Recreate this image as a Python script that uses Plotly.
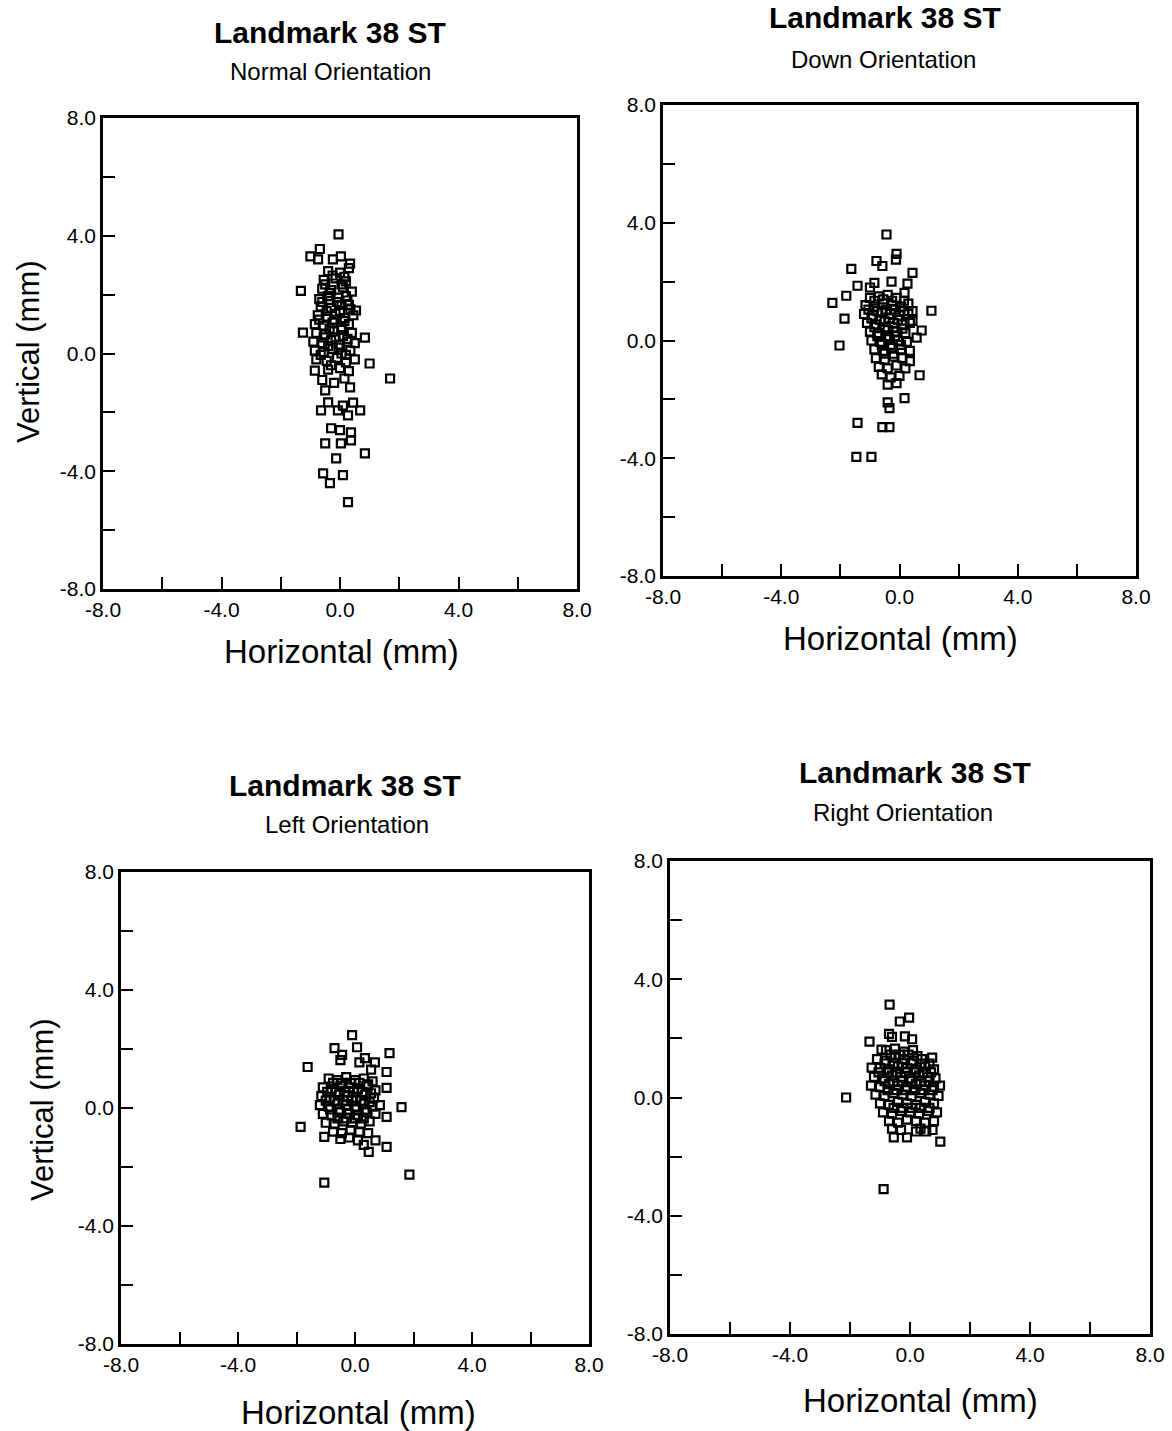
import plotly.graph_objects as go

# ---- Landmark 38 ST displacement data (mm) ----
normal_x = [-0.05, -1.0, -0.68, -0.74, -0.24, 0.03, 0.34, -1.32, -1.25, 0.84, 1.0, 0.54,
            -0.85, 1.69, 0.34, -0.5, -0.4, -0.64, 0.1, 0.44, 0.68, 0.27, -0.07, -0.3, 0.0,
            0.37, 0.37, -0.5, 0.03, 0.84, -0.13, -0.57, -0.34, 0.1, 0.27,
            -0.4, 0.0, 0.3, -0.55, -0.15, 0.2, -0.6, -0.3, 0.1, 0.4, -0.7, -0.4, -0.05, 0.25,
            -0.65, -0.3, 0.05, 0.35, -0.75, -0.45, -0.15, 0.15, 0.45, -0.85, -0.55, -0.25, 0.05,
            0.3, -0.8, -0.5, -0.2, 0.1, 0.4, -0.9, -0.6, -0.3, 0.0, 0.25, 0.5, -0.85, -0.55,
            -0.25, 0.05, 0.35, -0.8, -0.45, -0.1, 0.2, 0.5, -0.4, 0.0, 0.3, -0.6, 0.15, -0.2,
            -0.25, 0.15, -0.5, 0.05, -0.35, 0.2, -0.6, -0.1, 0.3, -0.45, 0.0, -0.7, -0.2, 0.15,
            -0.35, 0.05, -0.55, -0.15, 0.25, -0.4, -0.05, 0.2, -0.65, -0.3]
normal_y = [4.05, 3.3, 3.55, 3.2, 3.2, 3.3, 3.05, 2.13, 0.71, 0.54, -0.34, 1.46,
            -0.58, -0.85, -1.15, -1.25, -1.66, -1.93, -1.77, -1.67, -1.93, -2.1, -1.93, -2.54, -2.6,
            -2.68, -2.95, -3.05, -3.05, -3.39, -3.56, -4.07, -4.4, -4.13, -5.05,
            2.8, 2.75, 2.9, 2.5, 2.55, 2.45, 2.2, 2.15, 2.25, 2.1, 1.85, 1.95, 1.9, 1.8,
            1.6, 1.55, 1.65, 1.5, 1.3, 1.25, 1.35, 1.2, 1.3, 1.0, 0.95, 1.05, 0.9,
            1.0, 0.7, 0.65, 0.75, 0.6, 0.7, 0.4, 0.35, 0.45, 0.3, 0.4, 0.35, 0.1, 0.05,
            0.15, 0.0, 0.1, -0.2, -0.25, -0.15, -0.3, -0.2, -0.55, -0.5, -0.6, -0.9, -0.85, -1.0,
            2.65, 2.6, 2.35, 2.35, 2.05, 1.95, 1.75, 1.75, 1.65, 1.45, 1.45, 1.15, 1.15, 1.1,
            0.85, 0.8, 0.55, 0.55, 0.5, 0.25, 0.2, -0.05, -0.05, -0.4]

down_x = [-0.44, -0.1, -0.12, -0.78, -0.58, -1.63, 0.44, -0.85, -0.27, 0.27, -1.42, -1.0,
          -1.8, -2.27, 1.08, -1.86, 0.44, 0.75, -2.03, 0.68, 0.17, -0.4, -0.34, -1.42, -0.58,
          -0.34, -1.46, -0.95, 0.17, 0.44, 0.58,
          -1.0, -0.7, -0.4, -0.1, -1.15, -0.85, -0.55, -0.25, 0.05, 0.3, -1.2, -0.9, -0.6,
          -0.3, 0.0, 0.3, -1.1, -0.8, -0.5, -0.2, 0.1, 0.35, -1.0, -0.7, -0.4, -0.1, 0.2,
          -0.95, -0.65, -0.35, -0.05, 0.25, -0.85, -0.55, -0.25, 0.05, 0.35, -0.8, -0.5,
          -0.2, 0.1, 0.35, -0.7, -0.4, -0.1, 0.2, -0.6, -0.3, 0.0, -0.4, -0.1,
          -0.85, -0.55, -0.25, 0.15, -1.05, -0.75, -0.45, -0.15, 0.15, -0.95, -0.65, -0.35,
          -0.05, -0.85, -0.5, -0.2, 0.1, -0.75, -0.45, -0.15, -0.6, -0.3, 0.05, -0.5, -0.2]
down_y = [3.6, 2.94, 2.75, 2.7, 2.53, 2.43, 2.3, 1.96, 2.0, 1.93, 1.86, 1.8,
          1.52, 1.28, 1.01, 0.74, 1.0, 0.34, -0.17, -1.18, -1.96, -2.1, -2.3, -2.8, -2.94,
          -2.94, -3.95, -3.95, 1.62, 0.67, 0.1,
          1.45, 1.5, 1.55, 1.45, 1.2, 1.15, 1.25, 1.2, 1.15, 1.25, 0.9, 0.85, 0.95,
          0.9, 0.85, 0.9, 0.6, 0.55, 0.65, 0.6, 0.55, 0.6, 0.3, 0.25, 0.35, 0.3, 0.25,
          0.0, -0.05, 0.05, 0.0, -0.05, -0.3, -0.35, -0.25, -0.3, -0.35, -0.6, -0.65,
          -0.55, -0.6, -0.7, -0.9, -0.95, -0.85, -0.95, -1.15, -1.25, -1.2, -1.5, -1.45,
          1.35, 1.4, 1.35, 1.35, 1.05, 1.0, 1.05, 1.05, 1.0, 0.75, 0.7, 0.75,
          0.7, 0.45, 0.45, 0.45, 0.4, 0.15, 0.15, 0.15, -0.15, -0.15, -0.15, -0.45, -0.45]

left_x = [-0.1, -0.7, -0.44, 0.07, 0.34, 0.68, 1.18, -0.5, -1.62, 1.08, 0.15, 0.55,
          1.59, -1.86, -1.05, 1.08, 0.47, 0.3, 0.7, -1.05, 1.86, 1.08, 1.08,
          -0.9, -0.6, -0.3, 0.0, 0.3, 0.6, -1.1, -0.8, -0.5, -0.2, 0.1, 0.4, 0.7,
          -1.15, -0.85, -0.55, -0.25, 0.05, 0.35, 0.65, -1.2, -0.9, -0.6, -0.3, 0.0, 0.3,
          0.6, 0.85, -1.1, -0.8, -0.5, -0.2, 0.1, 0.4, 0.7, -1.0, -0.7, -0.4, -0.1, 0.2,
          0.5, -0.75, -0.45, -0.15, 0.15, 0.45, -0.5, -0.2, 0.1,
          -0.75, -0.45, -0.15, 0.15, 0.45, -0.95, -0.65, -0.35, -0.05, 0.25, 0.55, -1.0, -0.7,
          -0.4, -0.1, 0.2, 0.5, -0.85, -0.55, -0.25, 0.05, 0.35, -0.6, -0.3, 0.0, 0.3]
left_y = [2.47, 2.03, 1.8, 2.06, 1.69, 1.55, 1.86, 1.62, 1.39, 1.22, 1.55, 1.3,
          0.03, -0.64, -0.98, -1.32, -1.49, -1.25, -1.1, -2.53, -2.26, 0.68, -0.3,
          1.0, 0.95, 1.05, 0.95, 1.0, 0.9, 0.7, 0.65, 0.75, 0.7, 0.65, 0.75, 0.6,
          0.4, 0.35, 0.45, 0.4, 0.35, 0.45, 0.35, 0.1, 0.05, 0.15, 0.1, 0.05, 0.15,
          0.05, 0.1, -0.2, -0.25, -0.15, -0.2, -0.25, -0.15, -0.2, -0.5, -0.55, -0.45, -0.5, -0.55,
          -0.45, -0.8, -0.85, -0.75, -0.8, -0.85, -1.05, -1.0, -1.1,
          0.85, 0.85, 0.85, 0.85, 0.8, 0.55, 0.55, 0.55, 0.55, 0.55, 0.5, 0.25, 0.25,
          0.25, 0.25, 0.25, 0.2, -0.05, -0.05, -0.05, -0.05, -0.05, -0.35, -0.35, -0.35, -0.35]

right_x = [-0.68, -0.34, -0.03, -0.7, -0.6, -0.17, 0.07, -1.35, -0.95, 0.74, -1.28, -2.13,
           1.01, -0.54, -0.1, 0.2, 0.54, -0.88,
           -0.8, -0.5, -0.2, 0.1, -1.1, -0.8, -0.5, -0.2, 0.1, 0.4, -1.0, -0.7, -0.4, -0.1,
           0.2, 0.5, 0.8, -1.2, -0.9, -0.6, -0.3, 0.0, 0.3, 0.6, 0.85, -1.3, -1.0, -0.7,
           -0.4, -0.1, 0.2, 0.5, 0.8, 1.0, -1.15, -0.85, -0.55, -0.25, 0.05, 0.35, 0.65, 0.95,
           -1.0, -0.7, -0.4, -0.1, 0.2, 0.5, 0.8, -0.9, -0.6, -0.3, 0.0, 0.3, 0.6, 0.9,
           -0.7, -0.4, -0.1, 0.2, 0.5, 0.8, -0.6, -0.3, 0.35, 0.75,
           -0.65, -0.35, -0.05, 0.25, -0.85, -0.55, -0.25, 0.05, 0.35, 0.65, -1.05, -0.75,
           -0.45, -0.15, 0.15, 0.45, 0.7, -0.85, -0.55, -0.25, 0.05, 0.35, 0.65, -0.75, -0.45,
           -0.15, 0.15, 0.45, 0.75, -0.55, -0.25, 0.05, 0.35, 0.65]
right_y = [3.14, 2.57, 2.7, 2.15, 2.05, 2.07, 1.97, 1.89, 1.62, 1.35, 1.01, 0.0,
           -1.49, -1.35, -1.35, -1.15, -1.15, -3.1,
           1.6, 1.65, 1.55, 1.6, 1.3, 1.25, 1.35, 1.3, 1.25, 1.3, 1.0, 0.95, 1.05, 1.0,
           0.95, 1.05, 0.95, 0.7, 0.65, 0.75, 0.7, 0.65, 0.75, 0.7, 0.65, 0.4, 0.35, 0.45,
           0.4, 0.35, 0.45, 0.4, 0.35, 0.4, 0.1, 0.05, 0.15, 0.1, 0.05, 0.15, 0.1, 0.05,
           -0.2, -0.25, -0.15, -0.2, -0.25, -0.15, -0.2, -0.5, -0.55, -0.45, -0.5, -0.55, -0.45, -0.5,
           -0.8, -0.85, -0.75, -0.8, -0.85, -0.8, -1.05, -1.1, -1.05, -1.1,
           1.45, 1.45, 1.45, 1.4, 1.15, 1.15, 1.15, 1.15, 1.15, 1.15, 0.85, 0.85,
           0.85, 0.85, 0.85, 0.85, 0.85, 0.55, 0.55, 0.55, 0.55, 0.55, 0.55, 0.25, 0.25,
           0.25, 0.25, 0.25, 0.25, -0.35, -0.35, -0.35, -0.35, -0.35]

tick_vals = [-8, -6, -4, -2, 0, 2, 4, 6, 8]
tick_text = ["-8.0", "", "-4.0", "", "0.0", "", "4.0", "", "8.0"]

panel_titles = ["Normal Orientation", "Down Orientation", "Left Orientation", "Right Orientation"]
main_title = "Landmark 38 ST"
x_title = "Horizontal (mm)"
y_title = "Vertical (mm)"

W, H = 1172, 1431
FONT = "Liberation Sans, Arial, sans-serif"

# plot boxes in pixel units: (left, right, top, bottom)
boxes = [(103, 577, 118, 589), (663, 1136, 105, 576), (121, 589, 872, 1344), (670, 1150, 861, 1334)]
# title / subtitle / axis-title pixel anchors
title_pos = [(330, 33), (885, 18), (345, 785), (915, 772)]
sub_pos = [(330, 72), (883, 60), (347, 825), (903, 812)]
xtitle_pos = [(341, 651), (900, 638), (358, 1412), (920, 1400)]
ytitle_pos = [(28, 352), None, (42, 1110), None]

series = [(normal_x, normal_y), (down_x, down_y), (left_x, left_y), (right_x, right_y)]

fig = go.Figure()
annotations = []

def px(x):
    return x / W

def py(y):
    return 1 - y / H

for i, ((xs, ys), (l, r, t, b)) in enumerate(zip(series, boxes)):
    n = "" if i == 0 else str(i + 1)
    fig.add_trace(go.Scatter(
        x=xs, y=ys, mode="markers", xaxis="x" + n, yaxis="y" + n,
        marker=dict(symbol="square-open", size=8, color="black",
                    line=dict(width=2.2, color="black")),
        showlegend=False, hoverinfo="x+y"))
    axis_common = dict(
        range=[-8, 8], tickmode="array", tickvals=tick_vals, ticktext=tick_text,
        ticks="inside", ticklen=12, tickwidth=2, tickcolor="black",
        showline=True, linewidth=2.5, linecolor="black", mirror=True,
        showgrid=False, zeroline=False, automargin=False,
        tickfont=dict(family=FONT, size=21, color="black"))
    fig.update_layout(**{
        "xaxis" + n: dict(axis_common, domain=[px(l), px(r)],
                          anchor="y" + n),
        "yaxis" + n: dict(axis_common, domain=[py(b), py(t)],
                          anchor="x" + n),
    })
    annotations.append(dict(text="<b>%s</b>" % main_title, x=px(title_pos[i][0]), y=py(title_pos[i][1]),
                            xref="paper", yref="paper", showarrow=False,
                            font=dict(family=FONT, size=30, color="black"),
                            xanchor="center", yanchor="middle"))
    annotations.append(dict(text=panel_titles[i], x=px(sub_pos[i][0]), y=py(sub_pos[i][1]),
                            xref="paper", yref="paper", showarrow=False,
                            font=dict(family=FONT, size=24, color="black"),
                            xanchor="center", yanchor="middle"))
    annotations.append(dict(text=x_title, x=px(xtitle_pos[i][0]), y=py(xtitle_pos[i][1]),
                            xref="paper", yref="paper", showarrow=False,
                            font=dict(family=FONT, size=33, color="black"),
                            xanchor="center", yanchor="middle"))
    if ytitle_pos[i] is not None:
        annotations.append(dict(text=y_title, x=px(ytitle_pos[i][0]), y=py(ytitle_pos[i][1]),
                                xref="paper", yref="paper", showarrow=False, textangle=-90,
                                font=dict(family=FONT, size=31, color="black"),
                                xanchor="center", yanchor="middle"))

fig.update_layout(
    width=W, height=H, margin=dict(l=0, r=0, t=0, b=0, autoexpand=False),
    paper_bgcolor="white", plot_bgcolor="white",
    annotations=annotations)

fig.write_html("out.html")
